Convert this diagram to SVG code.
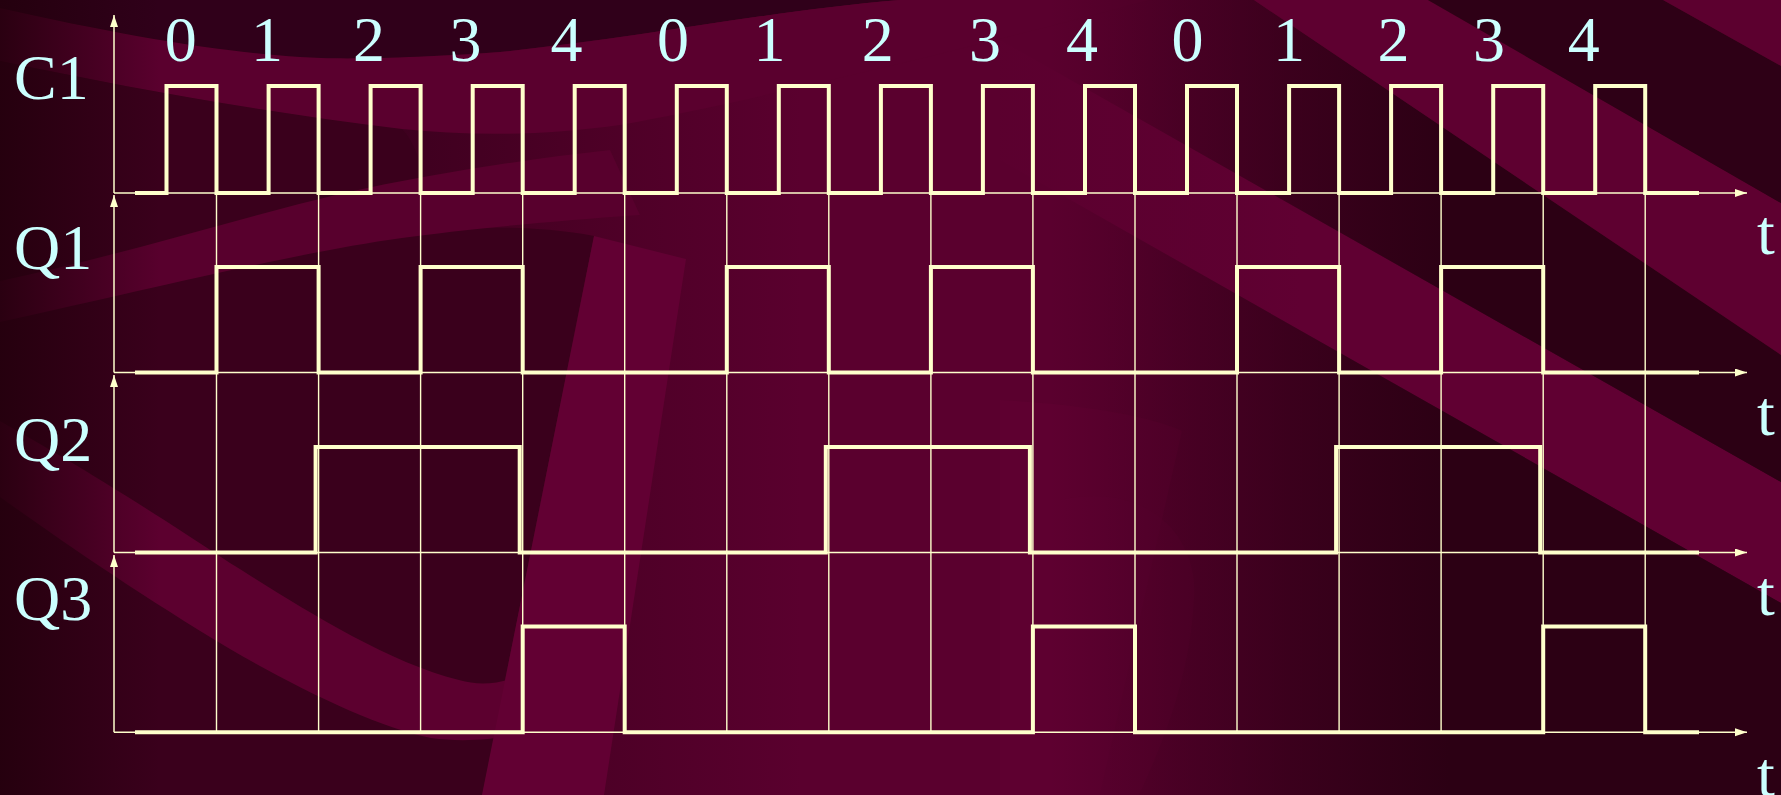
<svg xmlns="http://www.w3.org/2000/svg" width="1781" height="795" viewBox="0 0 1781 795">
<defs>
<linearGradient id="bg" x1="0" y1="0" x2="1" y2="0">
<stop offset="0" stop-color="#27000f"/>
<stop offset="0.15" stop-color="#34001a"/>
<stop offset="0.33" stop-color="#4c0026"/>
<stop offset="0.45" stop-color="#5a002e"/>
<stop offset="0.62" stop-color="#5a002e"/>
<stop offset="0.75" stop-color="#500029"/>
<stop offset="1" stop-color="#3a001c"/>
</linearGradient>
<linearGradient id="leftfade" x1="0" y1="0" x2="1" y2="0">
<stop offset="0" stop-color="#22000c" stop-opacity="0.85"/>
<stop offset="1" stop-color="#22000c" stop-opacity="0"/>
</linearGradient>
<linearGradient id="dkR" gradientUnits="userSpaceOnUse" x1="1050" y1="0" x2="1450" y2="0">
<stop offset="0" stop-color="#2c0014" stop-opacity="0"/>
<stop offset="1" stop-color="#2c0014" stop-opacity="1"/>
</linearGradient>
<linearGradient id="ltR" gradientUnits="userSpaceOnUse" x1="950" y1="0" x2="1300" y2="0">
<stop offset="0" stop-color="#600032" stop-opacity="0"/>
<stop offset="1" stop-color="#600032" stop-opacity="1"/>
</linearGradient>
<marker id="ah" markerUnits="userSpaceOnUse" markerWidth="13" markerHeight="9" refX="12" refY="4" orient="auto">
<path d="M0,0 L12,4 L0,8 Z" fill="#FFFFCC"/>
</marker>
<style>
.axis{stroke:#FFFFCC;stroke-width:1.5;fill:none}
.grid{stroke:#FFFFCC;stroke-width:1.4;fill:none}
.wave{stroke:#FFFFCC;stroke-width:4;fill:none;stroke-linejoin:miter;stroke-linecap:square}
.lbl{font-family:"Liberation Serif","Times New Roman",serif;font-size:64px;fill:#CCFFFF}
.num{font-family:"Liberation Serif","Times New Roman",serif;font-size:64px;fill:#CCFFFF;text-anchor:middle}
</style>
</defs>
<g id="background">
<rect x="0" y="0" width="1781" height="795" fill="url(#bg)"/>
<path d="M0,0 L900,0 C760,12 640,38 500,52 C420,58 340,60 300,57 C220,52 120,35 0,8 Z" fill="#30001a"/>
<path d="M0,61 C130,88 260,112 402,129 C430,160 425,205 400,236 C460,226 530,224 594,236 L482,795 L0,795 Z" fill="#3a001c"/>
<path d="M0,8 C120,35 220,52 300,57 C340,60 420,58 500,52 C640,38 760,12 900,0 L1150,0 C1000,40 760,100 620,125 C540,136 470,136 402,129 C260,112 130,88 0,61 Z" fill="#5a002e"/>
<path d="M0,281 C115,257 230,220 344,193 C430,174 520,160 610,150 L640,215 C540,222 460,230 402,238 C300,252 172,284 0,322 Z" fill="#58002d"/>
<path d="M0,421 C60,455 115,487 230,563 C290,600 380,660 459,680 C480,686 500,684 520,675 L512,735 C490,740 460,742 431,738 C380,728 300,690 230,649 C140,595 60,540 0,497 Z" fill="#5c002f"/>
<path d="M594,236 L686,259 L604,795 L482,795 Z" fill="#620033"/>
<path d="M1000,400 C1100,405 1160,420 1182,431 L1100,795 L1000,795 Z" fill="#600032" opacity="0.6"/>
<path d="M1060,500 C1150,480 1200,540 1194,600 C1190,680 1160,750 1139,795 L1060,795 Z" fill="#600032" opacity="0.5"/>
<path d="M1000,40 L1781,482 L1781,603 L1000,160 Z" fill="url(#ltR)"/>
<path d="M1000,0 L1254,0 L1781,355 L1781,482 L1000,40 Z" fill="url(#dkR)"/>
<path d="M1000,160 L1781,603 L1781,795 L1000,795 Z" fill="url(#dkR)"/>
<path d="M1254,0 L1428,0 L1781,203 L1781,355 Z" fill="#5e0030"/>
<path d="M1428,0 L1663,0 L1781,66 L1781,203 Z" fill="#2e0016"/>
<path d="M1663,0 L1781,0 L1781,66 Z" fill="#5c002f"/>
<rect x="0" y="0" width="160" height="795" fill="url(#leftfade)"/>
</g>
<g id="connectors">
<path class="axis" d="M114,193 V15" marker-end="url(#ah)"/>
<path class="axis" d="M114,372.5 V195" marker-end="url(#ah)"/>
<path class="axis" d="M114,552.5 V375" marker-end="url(#ah)"/>
<path class="axis" d="M114,732.3 V555" marker-end="url(#ah)"/>
<path class="axis" d="M114,193 H1747" marker-end="url(#ah)"/>
<path class="axis" d="M114,372.5 H1747" marker-end="url(#ah)"/>
<path class="axis" d="M114,552.5 H1747" marker-end="url(#ah)"/>
<path class="axis" d="M114,732.3 H1747" marker-end="url(#ah)"/>
<path class="grid" d="M216.5,193V732.3 M318.6,193V732.3 M420.6,193V732.3 M522.7,193V732.3 M624.7,193V732.3 M726.8,193V732.3 M828.8,193V732.3 M930.9,193V732.3 M1032.9,193V732.3 M1135,193V732.3 M1237,193V732.3 M1339.1,193V732.3 M1441.1,193V732.3 M1543.2,193V732.3 M1645.2,193V732.3"/>
</g>
<g id="C1">
<text class="lbl" x="14" y="98.5">C1</text>
<path class="wave" d="M137,193 H166.5 V86 H216.5 V193 H268.6 V86 H318.6 V193 H370.6 V86 H420.6 V193 H472.7 V86 H522.7 V193 H574.7 V86 H624.7 V193 H676.8 V86 H726.8 V193 H778.8 V86 H828.8 V193 H880.9 V86 H930.9 V193 H982.9 V86 H1032.9 V193 H1085 V86 H1135 V193 H1187 V86 H1237 V193 H1289.1 V86 H1339.1 V193 H1391.1 V86 H1441.1 V193 H1493.2 V86 H1543.2 V193 H1595.2 V86 H1645.2 V193 H1697"/>
<text class="lbl" x="1757" y="253.5">t</text>
</g>
<g id="counts">
<text class="num" x="180.7" y="61">0</text>
<text class="num" x="267" y="61">1</text>
<text class="num" x="369" y="61">2</text>
<text class="num" x="465.4" y="61">3</text>
<text class="num" x="566.6" y="61">4</text>
<text class="num" x="673" y="61">0</text>
<text class="num" x="769.4" y="61">1</text>
<text class="num" x="877.7" y="61">2</text>
<text class="num" x="985" y="61">3</text>
<text class="num" x="1082" y="61">4</text>
<text class="num" x="1187.5" y="61">0</text>
<text class="num" x="1289" y="61">1</text>
<text class="num" x="1393.5" y="61">2</text>
<text class="num" x="1489" y="61">3</text>
<text class="num" x="1583.8" y="61">4</text>
</g>
<g id="Q1">
<text class="lbl" x="14" y="269">Q1</text>
<path class="wave" d="M137,372.5 H216.5 V267 H318.6 V372.5 H420.6 V267 H522.7 V372.5 H726.8 V267 H828.8 V372.5 H930.9 V267 H1032.9 V372.5 H1237 V267 H1339.1 V372.5 H1441.1 V267 H1543.2 V372.5 H1697"/>
<text class="lbl" x="1757" y="434.5">t</text>
</g>
<g id="Q2">
<text class="lbl" x="14" y="461">Q2</text>
<path class="wave" d="M137,552.5 H315.6 V447 H519.7 V552.5 H825.8 V447 H1029.9 V552.5 H1336.1 V447 H1540.2 V552.5 H1697"/>
<text class="lbl" x="1757" y="615">t</text>
</g>
<g id="Q3">
<text class="lbl" x="14" y="620">Q3</text>
<path class="wave" d="M137,732.3 H522.7 V626.5 H624.7 V732.3 H1032.9 V626.5 H1135 V732.3 H1543.2 V626.5 H1645.2 V732.3 H1697"/>
<text class="lbl" x="1757" y="795.5">t</text>
</g>
</svg>
